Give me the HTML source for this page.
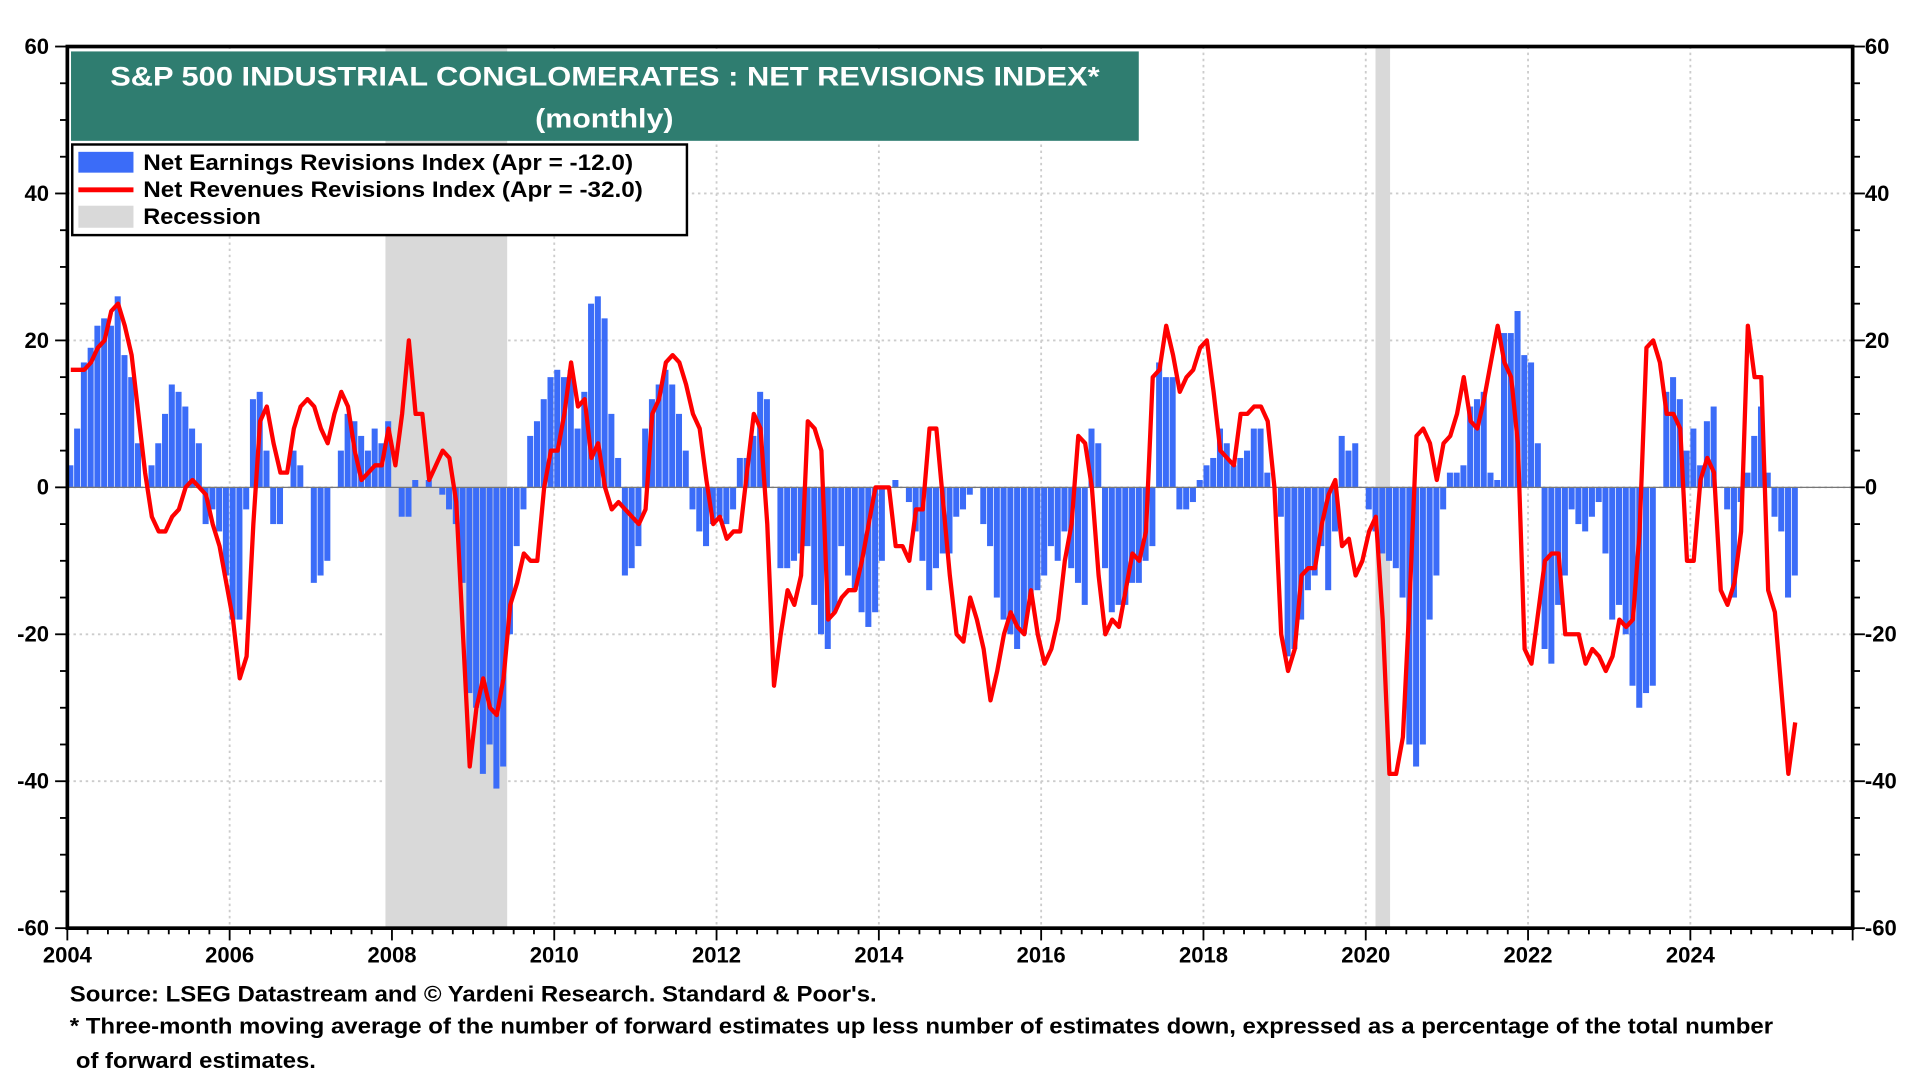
<!DOCTYPE html>
<html><head><meta charset="utf-8"><style>
html,body{margin:0;padding:0;background:#fff;width:1920px;height:1080px;overflow:hidden}
svg{display:block}
text{font-family:"Liberation Sans",Arial,sans-serif;font-weight:bold}
</style></head><body>
<svg id="chart" width="1920" height="1080" viewBox="0 0 1568 882" xmlns="http://www.w3.org/2000/svg">
<g id="grid"></g>
<g id="rec"></g>
<g id="bars"></g>
<line x1="55" x2="1513" y1="398" y2="398" stroke="#777" stroke-width="1"/>
<path id="rev" fill="none" stroke="#ff0000" stroke-width="3.5" stroke-linejoin="round"/>
<rect x="55" y="38" width="1458" height="720" fill="none" stroke="#000" stroke-width="3"/>
<g id="axes"></g>
<rect x="58" y="42" width="872" height="73" fill="#2f7d70"/>
<text x="90" y="70" fill="#fff" font-size="22" textLength="808" lengthAdjust="spacingAndGlyphs">S&amp;P 500 INDUSTRIAL CONGLOMERATES : NET REVISIONS INDEX*</text>
<text x="437" y="104" fill="#fff" font-size="22" textLength="113" lengthAdjust="spacingAndGlyphs">(monthly)</text>
<g>
<rect x="59" y="118" width="502" height="74" fill="#fff" stroke="#000" stroke-width="2"/>
<rect x="64" y="124" width="45" height="17" fill="#3b6cf8"/>
<text x="117" y="139" font-size="18" textLength="400" lengthAdjust="spacingAndGlyphs">Net Earnings Revisions Index (Apr  = -12.0)</text>
<line x1="64" x2="109" y1="155" y2="155" stroke="#f00" stroke-width="4"/>
<text x="117" y="161" font-size="18" textLength="408" lengthAdjust="spacingAndGlyphs">Net Revenues Revisions Index (Apr  = -32.0)</text>
<rect x="64" y="168" width="45" height="18" fill="#d9d9d9"/>
<text x="117" y="183" font-size="18" textLength="96" lengthAdjust="spacingAndGlyphs">Recession</text>
</g>
<text x="57" y="818" font-size="18" textLength="659" lengthAdjust="spacingAndGlyphs">Source: LSEG Datastream and © Yardeni Research. Standard &amp; Poor's.</text>
<text x="57" y="844" font-size="18" textLength="1391" lengthAdjust="spacingAndGlyphs">* Three-month moving average of the number of forward estimates up less number of estimates down, expressed as a percentage of the total number</text>
<text x="62" y="872" font-size="18" textLength="196" lengthAdjust="spacingAndGlyphs">of forward estimates.</text>
</svg>
<script>
const startYear = 2004;
const earnings = [
3,8,17,19,22,23,22,26,18,15,6,0,
3,6,10,14,13,11,8,6,-5,-3,-6,-12,
-18,-18,-3,12,13,5,-5,-5,0,5,3,0,
-13,-12,-10,0,5,10,9,7,5,8,6,9,
0,-4,-4,1,0,1,0,-1,-3,-5,-13,-28,
-30,-39,-35,-41,-38,-20,-8,-3,7,9,12,15,
16,15,16,8,13,25,26,23,10,4,-12,-11,
-8,8,12,14,16,14,10,5,-3,-6,-8,-5,
-4,-5,-3,4,4,7,13,12,0,-11,-11,-10,
-9,-8,-16,-20,-22,-17,-8,-12,-14,-17,-19,-17,
-10,0,1,0,-2,-6,-10,-14,-11,-9,-9,-4,
-3,-1,0,-5,-8,-15,-18,-20,-22,-20,-15,-14,
-12,-8,-10,-6,-11,-13,-16,8,6,-11,-17,-16,
-16,-13,-13,-10,-8,17,15,15,-3,-3,-2,1,
3,4,8,6,3,4,5,8,8,2,0,-4,
-23,-22,-18,-14,-12,-8,-14,-6,7,5,6,0,
-3,-6,-9,-10,-11,-15,-35,-38,-35,-18,-12,-3,
2,2,3,11,12,13,2,1,21,21,24,18,
17,6,-22,-24,-16,-12,-3,-5,-6,-4,-2,-9,
-18,-16,-20,-27,-30,-28,-27,0,13,15,12,5,
8,3,9,11,0,-3,-15,-2,2,7,11,2,
-4,-6,-15,-12];
const revenues = [
16,16,16,17,19,20,24,25,22,18,10,2,
-4,-6,-6,-4,-3,0,1,0,-1,-5,-8,-13,
-18,-26,-23,-5,9,11,6,2,2,8,11,12,
11,8,6,10,13,11,5,1,2,3,3,8,
3,10,20,10,10,1,3,5,4,-2,-20,-38,
-30,-26,-30,-31,-26,-16,-13,-9,-10,-10,0,5,
5,10,17,11,12,4,6,0,-3,-2,-3,-4,
-5,-3,10,12,17,18,17,14,10,8,1,-5,
-4,-7,-6,-6,2,10,8,-5,-27,-20,-14,-16,
-12,9,8,5,-18,-17,-15,-14,-14,-10,-5,0,
0,0,-8,-8,-10,-3,-3,8,8,-2,-12,-20,
-21,-15,-18,-22,-29,-25,-20,-17,-19,-20,-14,-20,
-24,-22,-18,-10,-5,7,6,0,-12,-20,-18,-19,
-14,-9,-10,-6,15,16,22,18,13,15,16,19,
20,13,5,4,3,10,10,11,11,9,0,-20,
-25,-22,-12,-11,-11,-5,-1,1,-8,-7,-12,-10,
-6,-4,-18,-39,-39,-34,-15,7,8,6,1,6,
7,10,15,9,8,12,17,22,17,15,6,-22,
-24,-17,-10,-9,-9,-20,-20,-20,-24,-22,-23,-25,
-23,-18,-19,-18,-6,19,20,17,10,10,8,-10,
-10,1,4,2,-14,-16,-13,-6,22,15,15,-14,
-17,-28,-39,-32];
const recessions = [[2007.92,2009.42],[2020.12,2020.3]];
const yTicks = [-60,-40,-20,0,20,40,60];
const xTickYears = [2004,2006,2008,2010,2012,2014,2016,2018,2020,2022,2024];

const NS="http://www.w3.org/2000/svg";
const L=55,R=1513,T=38,B=758;
const x=t=>L+(t-2004)/(2026-2004)*(R-L);
const y=v=>B-(v+60)/120*(B-T);
function mk(tag,attrs,parent){const e=document.createElementNS(NS,tag);for(const k in attrs)e.setAttribute(k,attrs[k]);parent.appendChild(e);return e;}
const grid=document.getElementById('grid'),axes=document.getElementById('axes');
yTicks.forEach(v=>{
  if(v>-60&&v<60){const g=mk('line',{x1:L,x2:R,y1:y(v),y2:y(v),stroke:'#ccc','stroke-width':1.5,'stroke-dasharray':'2,3'},grid);
  
  }
  const t1=mk('text',{x:L-15,y:y(v)+6,'font-size':18,'text-anchor':'end'},axes);t1.textContent=v;
  
  
  const t2=mk('text',{x:R+10,y:y(v)+6,'font-size':18},axes);t2.textContent=v;
  
  
});
for(let v=-60;v<=60;v+=5){const len=(v%20===0)?10:6;
  mk('line',{x1:L-len,x2:L,y1:y(v),y2:y(v),stroke:'#000','stroke-width':1.5},axes);
  mk('line',{x1:R,x2:R+len,y1:y(v),y2:y(v),stroke:'#000','stroke-width':1.5},axes);}
for(let q=0;q<=88;q++){const t=2004+q/4;const major=q%8===0;
  mk('line',{x1:x(t),x2:x(t),y1:B,y2:B+(major?10:5),stroke:'#000','stroke-width':1.5},axes);}
xTickYears.forEach(yr=>{
  if(yr>2004){const g=mk('line',{x1:x(yr),x2:x(yr),y1:T,y2:B,stroke:'#ccc','stroke-width':1.5,'stroke-dasharray':'2,3'},grid);
  
  }
  const t=mk('text',{x:x(yr),y:B+28,'font-size':18,'text-anchor':'middle'},axes);t.textContent=yr;
  
  
});
const rec=document.getElementById('rec');
recessions.forEach(r=>{const e=mk('rect',{x:x(r[0]),y:T,width:x(r[1])-x(r[0]),height:B-T,fill:'#d9d9d9'},rec);
  
  });
const bars=document.getElementById('bars');
const mw=(R-L)/(22*12);
earnings.forEach((v,i)=>{const t=startYear+i/12;const y0=y(0),y1=y(v);
  const e=mk('rect',{x:x(t),y:Math.min(y0,y1),width:mw-0.6,height:Math.abs(y1-y0),fill:'#3b6cf8'},bars);
  
  });
let d='';revenues.forEach((v,i)=>{const t=startYear+i/12+0.5/12;d+=(i?'L':'M')+x(t).toFixed(1)+','+y(v).toFixed(1);});
document.getElementById('rev').setAttribute('d',d);
</script>
</body></html>
